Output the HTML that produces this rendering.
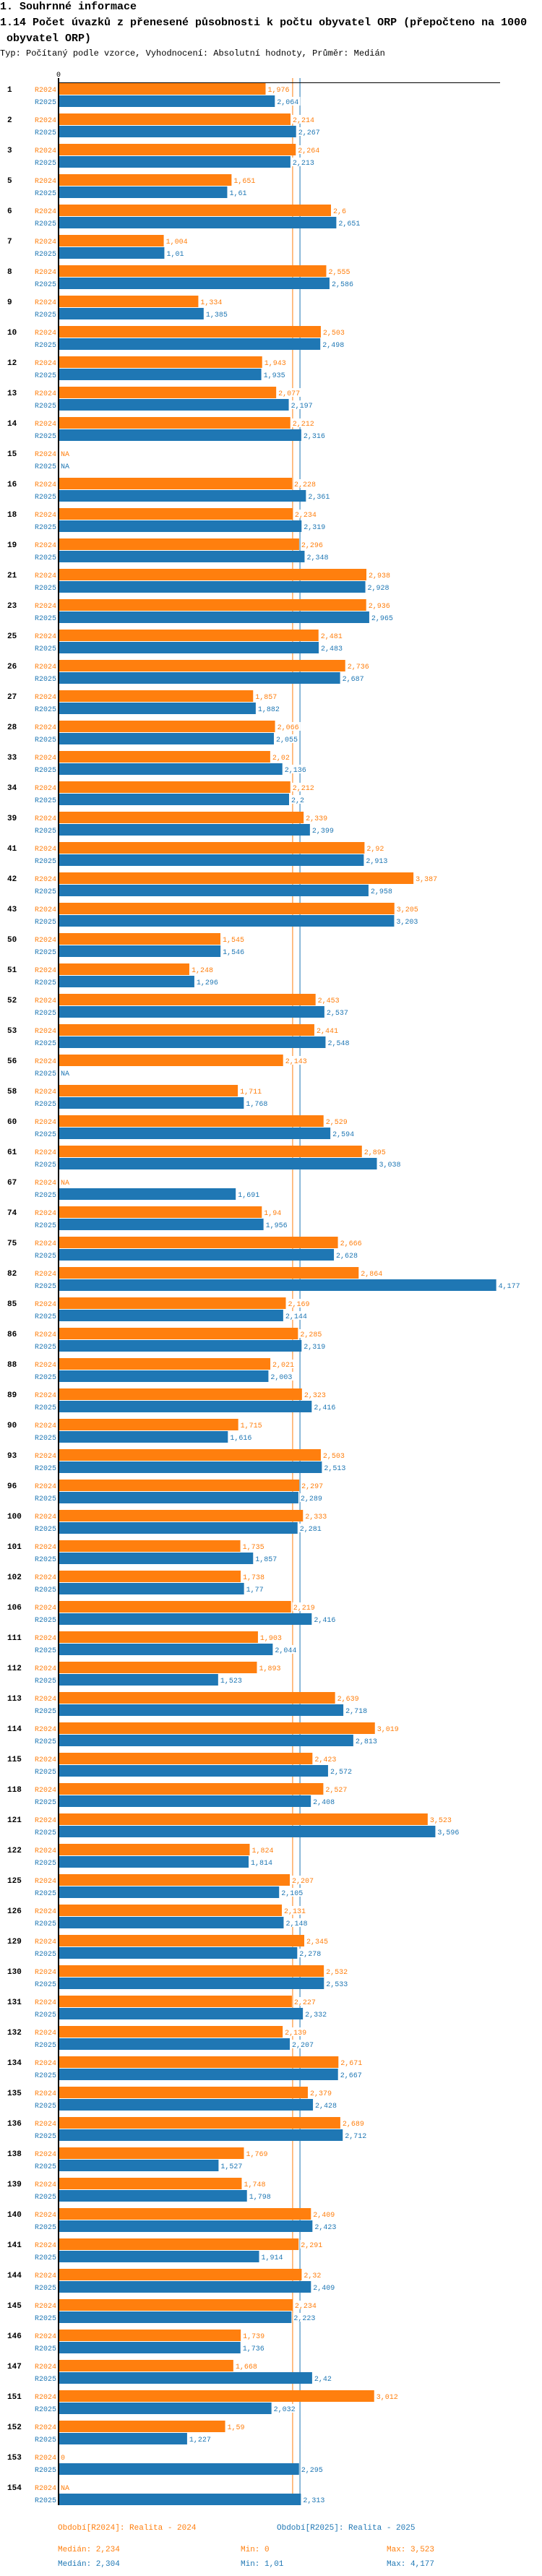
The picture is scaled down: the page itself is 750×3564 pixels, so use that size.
<!DOCTYPE html>
<html><head><meta charset="utf-8">
<style>
html,body{margin:0;padding:0;background:#fff;}
svg{display:block;}
text{font-family:"Liberation Mono",monospace;}
</style></head>
<body>
<svg id="chart" width="750" height="3564" viewBox="0 0 750 3564" xmlns="http://www.w3.org/2000/svg">
<text x="0" y="13" font-size="15" font-weight="bold" fill="#000">1. Souhrnné informace</text>
<text x="0" y="35" font-size="15" font-weight="bold" fill="#000">1.14 Počet úvazků z přenesené působnosti k počtu obyvatel ORP (přepočteno na 1000</text>
<text x="9" y="57" font-size="15" font-weight="bold" fill="#000">obyvatel ORP)</text>
<text x="0" y="77" font-size="12" fill="#000">Typ: Počítaný podle vzorce, Vyhodnocení: Absolutní hodnoty, Průměr: Medián</text>
<g id="plot"></g>
<g id="legend">
<text x="80" y="3500" font-size="11" fill="#ff7f0e">Období[R2024]: Realita - 2024</text>
<text x="383" y="3500" font-size="11" fill="#1f77b4">Období[R2025]: Realita - 2025</text>
<text x="80" y="3530" font-size="11" fill="#ff7f0e">Medián: 2,234</text>
<text x="333" y="3530" font-size="11" fill="#ff7f0e">Min: 0</text>
<text x="535" y="3530" font-size="11" fill="#ff7f0e">Max: 3,523</text>
<text x="80" y="3550" font-size="11" fill="#1f77b4">Medián: 2,304</text>
<text x="333" y="3550" font-size="11" fill="#1f77b4">Min: 1,01</text>
<text x="535" y="3550" font-size="11" fill="#1f77b4">Max: 4,177</text>
</g>
</svg>
<script>
const categories = ["1","2","3","5","6","7","8","9","10","12","13","14","15","16","18","19","21","23","25","26","27","28","33","34","39","41","42","43","50","51","52","53","56","58","60","61","67","74","75","82","85","86","88","89","90","93","96","100","101","102","106","111","112","113","114","115","118","121","122","125","126","129","130","131","132","134","135","136","138","139","140","141","144","145","146","147","151","152","153","154"];
const values2024 = [1.976,2.214,2.264,1.651,2.6,1.004,2.555,1.334,2.503,1.943,2.077,2.212,null,2.228,2.234,2.296,2.938,2.936,2.481,2.736,1.857,2.066,2.02,2.212,2.339,2.92,3.387,3.205,1.545,1.248,2.453,2.441,2.143,1.711,2.529,2.895,null,1.94,2.666,2.864,2.169,2.285,2.021,2.323,1.715,2.503,2.297,2.333,1.735,1.738,2.219,1.903,1.893,2.639,3.019,2.423,2.527,3.523,1.824,2.207,2.131,2.345,2.532,2.227,2.139,2.671,2.379,2.689,1.769,1.748,2.409,2.291,2.32,2.234,1.739,1.668,3.012,1.59,0,null];
const values2025 = [2.064,2.267,2.213,1.61,2.651,1.01,2.586,1.385,2.498,1.935,2.197,2.316,null,2.361,2.319,2.348,2.928,2.965,2.483,2.687,1.882,2.055,2.136,2.2,2.399,2.913,2.958,3.203,1.546,1.296,2.537,2.548,null,1.768,2.594,3.038,1.691,1.956,2.628,4.177,2.144,2.319,2.003,2.416,1.616,2.513,2.289,2.281,1.857,1.77,2.416,2.044,1.523,2.718,2.813,2.572,2.408,3.596,1.814,2.105,2.148,2.278,2.533,2.332,2.207,2.667,2.428,2.712,1.527,1.798,2.423,1.914,2.409,2.223,1.736,2.42,2.032,1.227,2.295,2.313];
const seriesNames = ["R2024","R2025"];
const medians = [2.234, 2.304];

const NS="http://www.w3.org/2000/svg";
const plot=document.getElementById('plot');
const X0=81, K=145, TOP=115, PITCH=42, BH=16;
const colors=["#ff7f0e","#1f77b4"];
function xs(v){return X0+v*K;}
function ys(i,s){return TOP+i*PITCH+s*17;}
function mk(tag,attrs){const e=document.createElementNS(NS,tag);for(const k in attrs)e.setAttribute(k,attrs[k]);plot.appendChild(e);return e;}
function fmt(v){return v===null?"NA":String(v).replace('.',',');}
const bottom=TOP+categories.length*PITCH-9;

// median lines
medians.forEach((m,s)=>{
  const l=mk('line',{x1:xs(m),x2:xs(m),y1:108,y2:bottom,stroke:colors[s],'stroke-width':1});
  
  
});
// top line and zero label
const tl=mk('line',{x1:X0,x2:692,y1:114.5,y2:114.5,stroke:'#000','stroke-width':1});


const zl=mk('text',{x:X0,y:106,'font-size':10,'text-anchor':'middle',fill:'#000'});
zl.textContent='0';



const series=[values2024,values2025];
categories.forEach((c,i)=>{
  const gl=mk('text',{x:10,y:ys(i,0)+12,'font-size':11,'font-weight':'bold',fill:'#000'});
  gl.textContent=c;
  
  
  series.forEach((vals,s)=>{
    const v=vals[i], y=ys(i,s);
    const sl=mk('text',{x:78,y:y+12,'font-size':10,'text-anchor':'end',fill:colors[s]});
    sl.textContent=seriesNames[s];
    
    
    let end=X0;
    if(v!==null && v>0){
      const r=mk('rect',{x:X0,y:y,width:xs(v)-X0,height:BH,fill:colors[s]});
      
      
      end=xs(v);
    }
    const txt=fmt(v);
    const bg=mk('rect',{x:end+2,y:y+2,width:txt.length*6+3,height:12,fill:'#fff'});
    
    
    const vl=mk('text',{x:end+3,y:y+12,'font-size':10,fill:colors[s]});
    vl.textContent=txt;
    
    
  });
});
// y axis line
const ya=mk('line',{x1:X0,x2:X0,y1:108,y2:bottom,stroke:'#000','stroke-width':2});


</script>
</body></html>
